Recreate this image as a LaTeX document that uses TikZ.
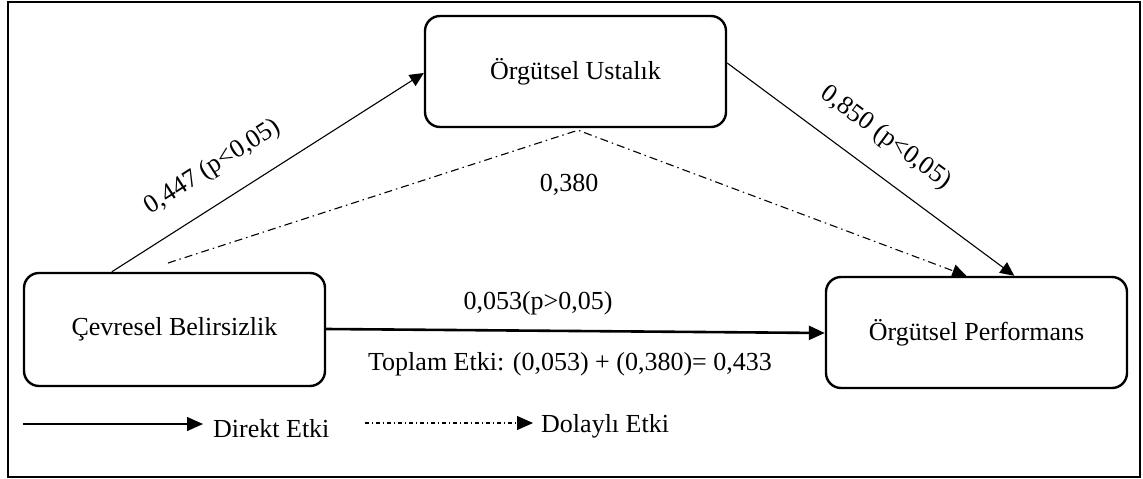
\documentclass[tikz,border=0pt]{standalone}
\usepackage{fontspec}
\setmainfont{Liberation Serif}
\usetikzlibrary{arrows.meta,calc}
\newcommand\lblfont{\fontsize{26}{30}\selectfont}
\begin{document}
\begin{tikzpicture}[x=1pt,y=-1pt,
  box/.style={draw,line width=2.4pt,rounded corners=15pt,minimum width=301pt,minimum height=111pt,inner sep=0pt,font=\lblfont},
  lbl/.style={font=\lblfont,inner sep=0pt},
  tip/.style={-{Triangle[length=14pt,width=13pt]}},
  direct/.style={tip,line width=1.1pt},
  thickdirect/.style={-{Triangle[length=16pt,width=14pt]},line width=2.6pt},
  indirect/.style={tip,line width=1.1pt,dash pattern=on 8pt off 4pt on 1.5pt off 4pt},
  legindirect/.style={-{Triangle[length=16pt,width=14pt]},line width=1.1pt,dash pattern=on 4pt off 3pt on 1pt off 3pt},
  legdirect/.style={-{Triangle[length=16pt,width=14pt]},line width=1.3pt}]
\useasboundingbox (0,0) rectangle (1143,479);
\draw[line width=2pt] (8,2) rectangle (1140,477);

\node[box] (ou) at (575.5,71.5) {Örgütsel Ustalık};
\node[box,minimum height=113pt] (cb) at (174.5,329.5) {Çevresel Belirsizlik};
\node[box] (op) at (976.5,332.5) {Örgütsel Performans};

% direct paths
\draw[direct] ($(cb.north west)+(89,0)$) -- ($(ou.west)+(0,1.5)$);
\draw[direct] ($(ou.east)+(0,-8.5)$) -- ($(op.north west)+(189.5,0)$);
\draw[thickdirect] ($(cb.east)+(0,-0.5)$) -- ($(op.west)+(0,0.5)$);

% indirect path
\coordinate (d1) at (168,263);
\coordinate (d2) at ($(ou.south)+(2.5,2)$);
\draw[indirect] (d1) -- (d2) -- ($(op.north west)+(141.5,0)$);

% labels
\node[lbl,rotate=32.5] (l1) at (213,167) {0,447 (p<0,05)};
\node[lbl,rotate=-36.5] (l2) at (886,138) {0,850 (p<0,05)};
\node[lbl,anchor=base] (l3) at (569,191) {0,380};
\node[lbl,anchor=base] (l4) at (538,309) {0,053(p>0,05)};
\node[lbl,anchor=base] (l5) at (570,370) {Toplam Etki: (0,053) + (0,380)= 0,433};

% legend
\node[lbl,anchor=base west] (k1) at (213,437) {Direkt Etki};
\node[lbl,anchor=base west] (k2) at (541,432) {Dolaylı Etki};
\coordinate (a1) at (23,424);
\coordinate (a2) at (203,424);
\coordinate (b1) at (365,423);
\coordinate (b2) at (533,423);
\draw[legdirect] (a1) -- (a2);
\draw[legindirect] (b1) -- (b2);
\end{tikzpicture}
\end{document}
